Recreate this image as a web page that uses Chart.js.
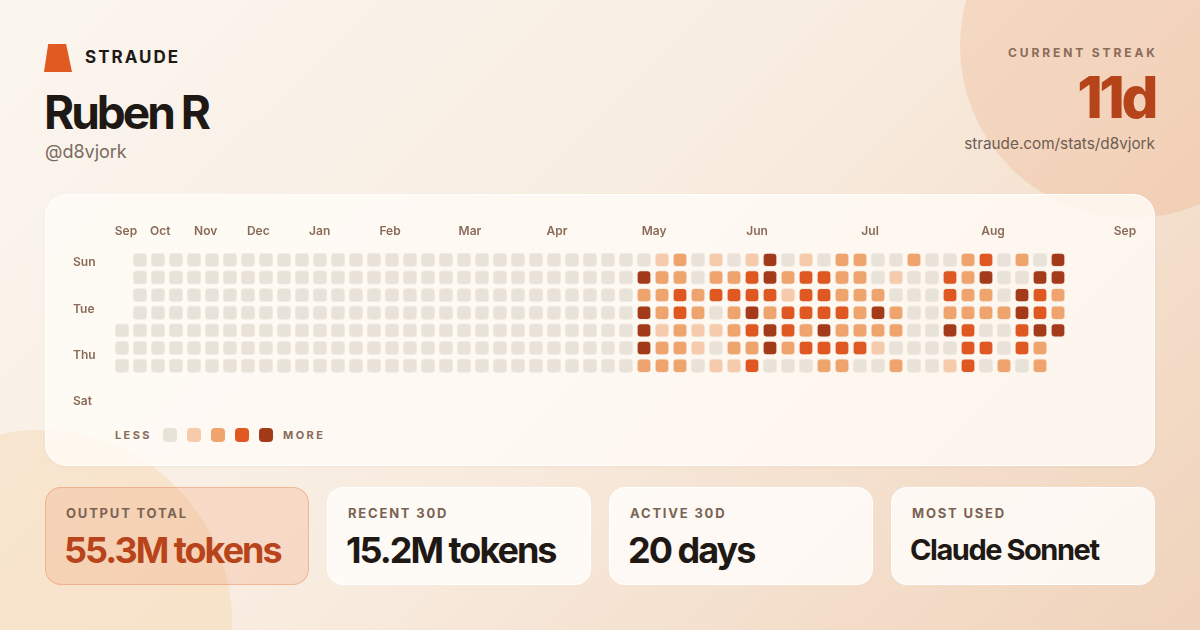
<!DOCTYPE html>
<html lang="en">
<head>
    <meta charset="UTF-8">
    <title>Straude stats card</title>
    <script src="https://cdn.jsdelivr.net/npm/chart.js@4.4.1/dist/chart.umd.min.js"></script>
    <style>
        * { box-sizing: border-box; }
        body {
            margin: 0;
            width: 1200px;
            height: 630px;
            overflow: hidden;
            position: relative;
            font-family: Inter, "Noto Sans", sans-serif;
            background: linear-gradient(135deg, #fbf6f0 0%, #f8ecdf 50%, #f0d3bb 100%);
        }
        .abs { position: absolute; line-height: 1; white-space: nowrap; }
        .blob { position: absolute; border-radius: 50%; }
        .logo {
            left: 44px; top: 44px; width: 28px; height: 28px;
            background: #e05a22;
            clip-path: polygon(15% 0, 79% 0, 100% 100%, 0 100%);
        }
        .brand { left: 85px; top: 49px; font-size: 17px; font-weight: 700; letter-spacing: 2px; color: #1f1915; }
        .name { left: 44px; top: 89px; font-size: 46px; font-weight: 700; letter-spacing: -0.065em; color: #1f1915; }
        .handle { left: 45px; top: 143px; font-size: 18px; color: #7b6a5f; }
        .streak-label { right: 45px; margin-right: -2.9px; top: 47px; font-size: 12px; font-weight: 700; letter-spacing: 2.9px; color: #8a6b5a; }
        .streak { right: 45px; top: 68px; font-size: 58px; font-weight: 800; letter-spacing: -0.06em; color: #b5441b; }
        .url { right: 45px; top: 136px; font-size: 15.3px; color: #6e5d52; }
        .panel {
            position: absolute; left: 45px; top: 194px; width: 1110px; height: 272px;
            border-radius: 22px;
            background: rgba(255, 251, 247, 0.82);
            border: 1px solid rgba(255, 255, 255, 0.95);
            box-shadow: 0 1px 3px rgba(160, 110, 70, 0.06);
        }
        #heat { position: absolute; left: 60px; top: 200px; width: 1100px; height: 220px; }
        .legend-text { top: 430px; font-size: 11px; font-weight: 700; letter-spacing: 2.4px; color: #8a6b5a; }
        .swatch { position: absolute; top: 428px; width: 14px; height: 14px; border-radius: 4px; }
        .card {
            position: absolute; top: 487px; width: 264px; height: 98px;
            border-radius: 16px;
            background: rgba(255, 253, 250, 0.85);
            border: 1px solid rgba(255, 255, 255, 0.95);
        }
        .card.hot { background: rgba(238, 140, 90, 0.2); border: 1px solid rgba(232, 140, 95, 0.45); }
        .card .lbl { position: absolute; left: 20px; top: 19px; font-size: 13px; font-weight: 700; letter-spacing: 1.8px; color: #7a6353; line-height: 1; }
        .card .val { position: absolute; left: 18px; top: 44px; font-size: 36px; font-weight: 700; letter-spacing: -2px; color: #1f1915; line-height: 1; white-space: nowrap; }
        .card .val.small { top: 47px; font-size: 29px; letter-spacing: -1.45px; }
        .card.hot .val { color: #b8441b; }
    </style>
</head>
<body>
    <div class="blob" style="left:960px; top:-126px; width:344px; height:344px; background: rgba(236,170,125,0.28);"></div>
    <div class="blob" style="left:-152px; top:430px; width:384px; height:384px; background: rgba(245,205,155,0.32);"></div>

    <div class="abs logo"></div>
    <div class="abs brand">STRAUDE</div>
    <div class="abs name">Ruben R</div>
    <div class="abs handle">@d8vjork</div>

    <div class="abs streak-label">CURRENT STREAK</div>
    <div class="abs streak">11d</div>
    <div class="abs url">straude.com/stats/d8vjork</div>

    <div class="panel"></div>
    <div id="heat"><canvas id="heatmap"></canvas></div>

    <div class="abs legend-text" style="left:115px;">LESS</div>
    <div id="swatches"></div>
    <div class="abs legend-text" style="left:283px;">MORE</div>

    <div id="cards"></div>

    <script>
        // activity level per weekday row, one char per week column ('-' = no day)
        const sunRow = '- 0000000 0000000 0000000 0000000 012010140102200200230204';
        const monRow = '- 0000000 0000000 0000000 0000000 422022342332201003240044';
        const tueRow = '- 0000000 0000000 0000000 0000000 223233331332220003220432';
        const wedRow = '- 0000000 0000000 0000000 0000000 423202423333242002222432';
        const thuRow = '0 0000000 0000000 0000000 0000000 412112343242222004300344';
        const friRow = '0 0000000 0000000 0000000 0000000 42210224233331000033032-';
        const satRow = '0 0000000 0000000 0000000 0000000 22201130002200200130202-';
        const weekdayRows = [sunRow, monRow, tueRow, wedRow, thuRow, friRow, satRow];
        const weekdayNames = ['Sun', 'Mon', 'Tue', 'Wed', 'Thu', 'Fri', 'Sat'];

        const levelColors = ['#e9e2d9', '#f6cbab', '#f0a46d', '#df5721', '#a33b1b'];

        // axis labels
        const monthLabels = ['Sep', 'Oct', 'Nov', 'Dec', 'Jan', 'Feb', 'Mar', 'Apr', 'May', 'Jun', 'Jul', 'Aug', 'Sep'];
        const monthLabelCols = [0.22, 2.13, 4.65, 7.57, 10.98, 14.89, 19.33, 24.17, 29.56, 35.28, 41.56, 48.39, 55.72];
        const dayLabels = ['Sun', 'Tue', 'Thu', 'Sat'];
        const dayLabelRows = [0.64, 3.3, 5.92, 8.5];

        // summary cards
        const statLabels = ['OUTPUT TOTAL', 'RECENT 30D', 'ACTIVE 30D', 'MOST USED'];
        const statValues = ['55.3M tokens', '15.2M tokens', '20 days', 'Claude Sonnet'];

        // legend swatches
        document.getElementById('swatches').innerHTML = levelColors.map((c, i) =>
            `<div class="swatch" style="left:${163 + i * 24}px; background:${c};"></div>`
        ).join('');

        document.getElementById('cards').innerHTML = statLabels.map((l, i) => `
            <div class="card${i === 0 ? ' hot' : ''}" style="left:${45 + i * 282}px;">
                <div class="lbl">${l}</div>
                <div class="val${statValues[i].length > 12 ? ' small' : ''}">${statValues[i]}</div>
            </div>`).join('');

        const datasets = weekdayRows.map((row, d) => {
            const cells = row.replace(/\s/g, '').split('');
            const points = [];
            const colors = [];
            cells.forEach((ch, w) => {
                if (ch === '-') return;
                points.push({ x: w, y: [d + 0.111, d + 0.889] });
                colors.push(levelColors[Number(ch)]);
            });
            return {
                label: weekdayNames[d],
                data: points,
                backgroundColor: colors,
                borderColor: 'rgba(120, 85, 55, 0.07)',
                borderWidth: 1,
                borderRadius: 4,
                borderSkipped: false,
                barThickness: 14,
                grouped: false
            };
        });

        Chart.defaults.font.family = 'Inter';

        new Chart(document.getElementById('heatmap'), {
            type: 'bar',
            data: { datasets },
            options: {
                responsive: true,
                maintainAspectRatio: false,
                animation: false,
                layout: { padding: { left: 13, right: 21, top: 0, bottom: 7 } },
                plugins: { legend: { display: false }, tooltip: { enabled: false } },
                scales: {
                    x: {
                        type: 'linear',
                        position: 'top',
                        min: -0.5,
                        max: 56.5,
                        offset: false,
                        grid: { display: false, drawTicks: false },
                        border: { display: false },
                        afterFit: s => { s.height = 51; },
                        afterBuildTicks: s => { s.ticks = monthLabelCols.map(v => ({ value: v })); },
                        ticks: {
                            autoSkip: false,
                            maxRotation: 0,
                            padding: 12,
                            color: '#8a6b58',
                            font: { size: 12, weight: '600' },
                            callback: (v, i) => monthLabels[i]
                        }
                    },
                    y: {
                        type: 'linear',
                        reverse: true,
                        min: 0,
                        max: 9,
                        grid: { display: false, drawTicks: false },
                        border: { display: false },
                        afterFit: s => { s.width = 40; },
                        afterBuildTicks: s => { s.ticks = dayLabelRows.map(v => ({ value: v })); },
                        ticks: {
                            crossAlign: 'far',
                            color: '#8a6b58',
                            font: { size: 12, weight: '600' },
                            callback: (v, i) => dayLabels[i]
                        }
                    }
                }
            }
        });
    </script>
</body>
</html>
